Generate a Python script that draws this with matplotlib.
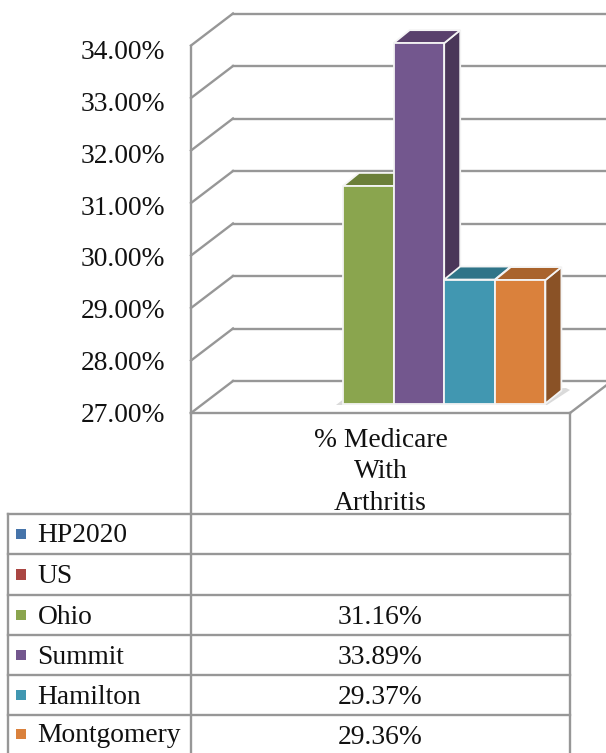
import matplotlib
matplotlib.use("Agg")
import matplotlib.pyplot as plt
from matplotlib.patches import Polygon, Rectangle

# ---- data ----
series = ["HP2020", "US", "Ohio", "Summit", "Hamilton", "Montgomery"]
values = [None, None, 31.16, 33.89, 29.37, 29.36]
value_labels = ["", "", "31.16%", "33.89%", "29.37%", "29.36%"]
category = "% Medicare\nWith\nArthritis"
ticks = [27, 28, 29, 30, 31, 32, 33, 34]
tick_labels = ["27.00%", "28.00%", "29.00%", "30.00%", "31.00%", "32.00%", "33.00%", "34.00%"]
front_colors = ["#4674aa", "#aa4643", "#8aa54e", "#73578e", "#4197b1", "#da813c"]
top_colors = ["#375a85", "#853735", "#6b7f39", "#59406c", "#2f7488", "#a9632c"]
side_colors = ["#2f4d72", "#722f2d", "#5c6d31", "#4a3659", "#28647a", "#8a5226"]

# ---- layout (pixels) ----
W, H = 606, 753
GRID = "#979797"
FONT = "Liberation Serif"
FS = 19.8
TXT = "#111111"
x_wall, x_back, x_right = 191, 233, 570
y_floor_front, y_floor_back = 413, 381
unit = 52.5
bar_unit = 52.3
dx, dy = 16, 13
bar_left, bar_w, bar_base = 343, 50.6, 403.5
row_edges = [514, 554, 595, 635, 675, 715, 753]
x_table = 8

fig = plt.figure(figsize=(W / 100, H / 100), dpi=100)
ax = fig.add_axes([0, 0, 1, 1])
ax.set_xlim(0, W)
ax.set_ylim(H, 0)
ax.axis("off")


def yf(v):
    return y_floor_front - (v - ticks[0]) * unit


def yb(v):
    return y_floor_back - (v - ticks[0]) * unit


def line(xs, ys, lw=1.7, z=1):
    ax.plot(xs, ys, color=GRID, lw=lw, solid_capstyle="projecting", zorder=z)


# walls and gridlines
for t in ticks:
    line([x_wall, x_back], [yf(t), yb(t)])
    line([x_back, W + 5], [yb(t), yb(t)])
line([x_wall, x_wall], [yf(ticks[-1]), yf(ticks[0])])
line([x_right, x_right + 42], [y_floor_front, y_floor_back])

# tick labels
for t, lab in zip(ticks, tick_labels):
    ax.text(165.5, 412 - (t - ticks[0]) * 51.75, lab, ha="right", va="center_baseline",
            family=FONT, fontsize=FS, color=TXT)

# bar shadow
ax.add_patch(Polygon([(336, 405), (345, 398), (566, 388), (570, 390), (547, 405)],
                     closed=True, fc="#dadada", ec="none", zorder=2))

# 3-D bars
i = 0
for name, v, fc, tc, sc in zip(series, values, front_colors, top_colors, side_colors):
    if v is None:
        continue
    x0 = bar_left + i * bar_w
    x1 = x0 + bar_w
    top = bar_base - (v - ticks[0]) * bar_unit
    ec = dict(ec="#f4f4f4", lw=1.3, joinstyle="miter", zorder=3 + i)
    ax.add_patch(Polygon([(x1, top), (x1 + dx, top - dy), (x1 + dx, bar_base - dy), (x1, bar_base)],
                         closed=True, fc=sc, **ec))
    ax.add_patch(Polygon([(x0, top), (x0 + dx, top - dy), (x1 + dx, top - dy), (x1, top)],
                         closed=True, fc=tc, **ec))
    ax.add_patch(Rectangle((x0, top), bar_w, bar_base - top, fc=fc, **ec))
    i += 1

# data table
line([x_wall, x_right], [y_floor_front, y_floor_front], z=10)
line([x_wall, x_wall], [y_floor_front, H + 5], z=10)
line([x_right, x_right], [y_floor_front, H + 5], z=10)
line([x_table, x_table], [row_edges[0], H + 5], z=10)
for y in row_edges[:-1]:
    line([x_table, x_right], [y, y], z=10)

x_center = (x_wall + x_right) / 2
for txt, y in zip(category.split("\n"), [437, 468, 500]):
    ax.text(x_center, y, txt, ha="center", va="center_baseline",
            family=FONT, fontsize=FS, color=TXT)

for k, (name, lab, c) in enumerate(zip(series, value_labels, front_colors)):
    yc = (row_edges[k] + row_edges[k + 1]) / 2
    ax.add_patch(Rectangle((16, yc - 5.5), 10, 10.5, fc=c, ec="none", zorder=11))
    ax.text(37.5, yc - 1, name, ha="left", va="center_baseline", family=FONT, fontsize=FS, color=TXT)
    if lab:
        ax.text(x_center, yc, lab, ha="center", va="center_baseline",
                family=FONT, fontsize=FS, color=TXT)

fig.savefig("out.png", dpi=100, facecolor="white")
